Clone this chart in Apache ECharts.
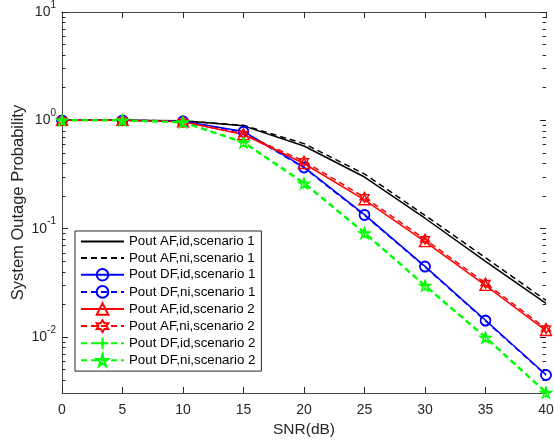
<!DOCTYPE html>
<html><head><meta charset="utf-8">
<script src="https://cdn.jsdelivr.net/npm/echarts@6/dist/echarts.min.js"></script>
<style>html,body{margin:0;padding:0;background:#fff}#c{width:554px;height:444px}</style>
</head><body><div id="c"></div>
<script>
// ---- data ----
const snr = [0, 5, 10, 15, 20, 25, 30, 35, 40];
const afIdS1 = [1, 1, 0.99, 0.89, 0.58, 0.30, 0.125, 0.050, 0.0205];
const afNiS1 = [1, 1, 0.99, 0.90, 0.61, 0.32, 0.133, 0.054, 0.0218];
const dfIdS1 = [1, 1, 0.98, 0.79, 0.37, 0.135, 0.045, 0.0143, 0.0045];
const dfNiS1 = [1, 1, 0.98, 0.78, 0.365, 0.133, 0.0445, 0.0141, 0.00445];
const afIdS2 = [1, 1, 0.97, 0.74, 0.40, 0.185, 0.076, 0.030, 0.0115];
const afNiS2 = [1, 1, 0.97, 0.75, 0.42, 0.195, 0.080, 0.0315, 0.0120];
const dfIdS2 = [1, 1, 0.96, 0.63, 0.265, 0.092, 0.030, 0.0100, 0.0031];
const dfNiS2 = [1, 1, 0.96, 0.625, 0.262, 0.091, 0.0298, 0.0099, 0.00307];
const seriesNames = ['Pout AF,id,scenario 1', 'Pout AF,ni,scenario 1', 'Pout DF,id,scenario 1', 'Pout DF,ni,scenario 1',
  'Pout AF,id,scenario 2', 'Pout AF,ni,scenario 2', 'Pout DF,id,scenario 2', 'Pout DF,ni,scenario 2'];
const xTicks = [0, 5, 10, 15, 20, 25, 30, 35, 40];
const yMajor = [0.01, 0.1, 1, 10];
const yMinor = [0.004, 0.005, 0.006, 0.007, 0.008, 0.009,
  0.02, 0.03, 0.04, 0.05, 0.06, 0.07, 0.08, 0.09,
  0.2, 0.3, 0.4, 0.5, 0.6, 0.7, 0.8, 0.9,
  2, 3, 4, 5, 6, 7, 8, 9];
const yMin = 0.00305, yMax = 10;

// ---- styling ----
const FONT = '"Liberation Sans", Arial, Helvetica, sans-serif';
const AX = '#4a4a4a';
const TXT = '#262626';
const HEX = 'path://M0,-100L28.9,-50L86.6,-50L57.7,0L86.6,50L28.9,50L0,100L-28.9,50L-86.6,50L-57.7,0L-86.6,-50L-28.9,-50Z';
const PENT = 'path://M0,-100L22.45,-30.9L95.1,-30.9L36.3,11.8L58.8,80.9L0,38.2L-58.8,80.9L-36.3,11.8L-95.1,-30.9L-22.45,-30.9Z';
const PLUS = 'path://M0,-100L0,100M-100,0L100,0';

function mk(name, vals, color, dashed, symbol, size, width) {
  const hasSym = !!symbol;
  return {
    name: name, type: 'line', xAxisIndex: 0, yAxisIndex: 0,
    data: snr.map((x, i) => [x, vals[i]]),
    clip: false,
    symbol: hasSym ? symbol : 'circle', symbolSize: hasSym ? size : 1, showSymbol: hasSym,
    lineStyle: { color: color, width: width, type: dashed ? [6, 4] : 'solid' },
    itemStyle: hasSym ? { color: 'transparent', borderColor: color, borderWidth: 1.4 }
                      : { color: 'rgba(0,0,0,0)', borderColor: 'rgba(0,0,0,0)', borderWidth: 0 },
    emphasis: { disabled: true }
  };
}
const series = [
  mk(seriesNames[0], afIdS1, '#000000', false, null, 0, 1.5),
  mk(seriesNames[1], afNiS1, '#000000', true, null, 0, 1.5),
  mk(seriesNames[2], dfIdS1, '#0000ff', false, 'circle', 10, 1.5),
  mk(seriesNames[3], dfNiS1, '#0000ff', true, 'circle', 10, 1.5),
  mk(seriesNames[4], afIdS2, '#ff0000', false, 'triangle', [11, 10], 1.5),
  mk(seriesNames[5], afNiS2, '#ff0000', true, HEX, [9, 10], 1.5),
  mk(seriesNames[6], dfIdS2, '#00ff00', true, PLUS, [10, 10], 2),
  mk(seriesNames[7], dfNiS2, '#00ff00', true, PENT, [11, 10.5], 2)
];

function yAx(pos, vals, len, labels) {
  return {
    type: 'log', position: pos, min: yMin, max: yMax, logBase: 10,
    axisLine: { show: !!labels, lineStyle: { color: AX, width: 1 } },
    axisTick: { show: true, inside: true, length: len, customValues: vals, lineStyle: { color: TXT, width: 1 } },
    splitLine: { show: false }, minorTick: { show: false },
    axisLabel: labels ? {
      show: true, customValues: yMajor, margin: 6,
      formatter: function (v) { return '{b|10}{e|' + Math.round(Math.log10(v)) + '}'; },
      rich: {
        b: { fontSize: 14, fontFamily: FONT, color: TXT, lineHeight: 24, verticalAlign: 'middle' },
        e: { fontSize: 10, fontFamily: FONT, color: TXT, lineHeight: 24, verticalAlign: 'top' }
      }
    } : { show: false },
    name: labels && pos === 'left' ? 'System Outage Probability' : '',
    nameLocation: 'middle', nameGap: 35, nameRotate: 90, nameMoveOverlap: false,
    nameTextStyle: { fontSize: 16.5, fontFamily: FONT, color: TXT }
  };
}
function xAx(pos, labels) {
  return {
    type: 'value', position: pos, min: 0, max: 40, interval: 5,
    axisLine: { show: true, onZero: false, lineStyle: { color: AX, width: 1 } },
    axisTick: { show: true, inside: true, length: 6, lineStyle: { color: TXT, width: 1 } },
    splitLine: { show: false },
    axisLabel: labels ? { show: true, margin: 10, fontSize: 14, fontFamily: FONT, color: TXT } : { show: false },
    name: labels ? 'SNR(dB)' : '', nameLocation: 'middle', nameGap: 29, nameMoveOverlap: false,
    nameTextStyle: { fontSize: 15.5, fontFamily: FONT, color: TXT }
  };
}

const chart = echarts.init(document.getElementById('c'), null, { renderer: 'canvas' });
chart.setOption({
  animation: false,
  backgroundColor: '#ffffff',
  grid: { left: 62, right: 8, top: 12, bottom: 51, containLabel: false, outerBoundsMode: 'none' },
  xAxis: [xAx('bottom', true), xAx('top', false)],
  yAxis: [yAx('left', yMajor, 6, true), yAx('left', yMinor, 3.5, false), yAx('right', yMajor, 6, false), yAx('right', yMinor, 3.5, false)],
  legend: {
    data: seriesNames, orient: 'vertical', left: 75, top: 231,
    itemWidth: 43, itemHeight: 14.5, itemGap: 3.5, padding: [4, 6, 4, 5],
    borderColor: '#262626', borderWidth: 1, backgroundColor: '#ffffff',
    textStyle: { fontSize: 13.3, fontFamily: FONT, color: '#000' },
    selectedMode: false
  },
  series: series
});
</script>
</body></html>
